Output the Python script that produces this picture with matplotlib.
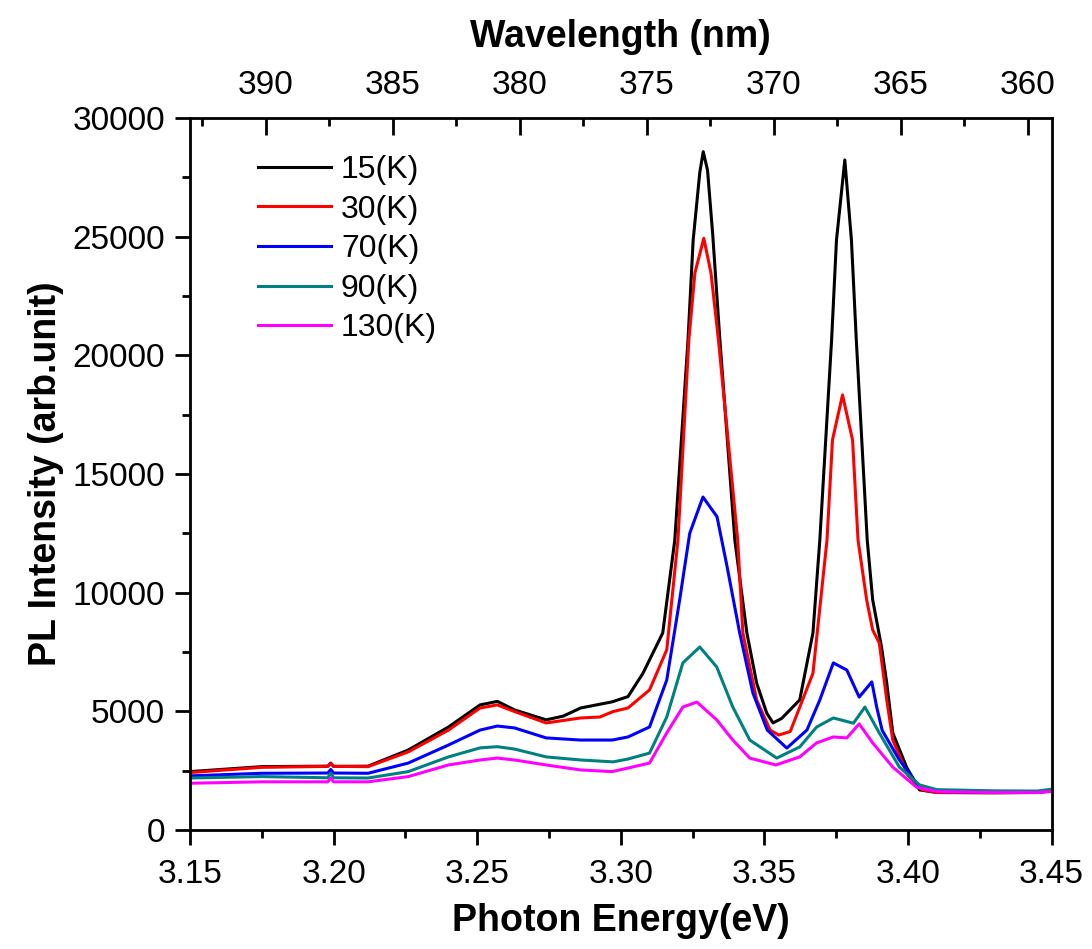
import numpy as np
import matplotlib
matplotlib.use("Agg")
import matplotlib.pyplot as plt
from matplotlib.ticker import MultipleLocator

plt.rcParams['font.family'] = ['Liberation Sans', 'DejaVu Sans']

# photon energy (eV) and PL intensity
e_15k = [3.150, 3.175, 3.198, 3.199, 3.200, 3.212, 3.226, 3.240, 3.251, 3.257,
         3.263, 3.274, 3.280, 3.286, 3.297, 3.3025, 3.3077, 3.3146, 3.3188, 3.3234,
         3.3252, 3.3275, 3.3287, 3.3302, 3.332, 3.3345, 3.3397, 3.3439, 3.3473, 3.3508,
         3.353, 3.356, 3.3623, 3.3669, 3.3693, 3.3734, 3.3751, 3.378, 3.3803, 3.382,
         3.3858, 3.3877, 3.3908, 3.3926, 3.3947, 3.3995, 3.404, 3.410, 3.430, 3.445, 3.450]
i_15k = [2460, 2670, 2690, 2820, 2680, 2690, 3370, 4340, 5270, 5420,
         5060, 4640, 4800, 5140, 5400, 5620, 6600, 8300, 12220, 20650,
         24860, 27700, 28580, 27800, 25100, 20650, 12220, 8300, 6190, 4930,
         4510, 4700, 5480, 8300, 12220, 20650, 24860, 28230, 24860, 20650,
         12220, 9700, 7700, 6190, 4090, 2650, 1690, 1580, 1570, 1580, 1650]

e_30k = [3.150, 3.175, 3.198, 3.199, 3.200, 3.212, 3.226, 3.240, 3.251, 3.257,
         3.263, 3.274, 3.286, 3.2927, 3.2973, 3.3025, 3.310, 3.316, 3.3199, 3.3237,
         3.3258, 3.3289, 3.3314, 3.334, 3.3407, 3.3425, 3.3473, 3.352, 3.355, 3.359,
         3.3669, 3.3718, 3.3737, 3.3772, 3.3807, 3.3826, 3.3856, 3.3877, 3.390, 3.3926,
         3.3947, 3.400, 3.405, 3.410, 3.430, 3.445, 3.450]
i_30k = [2420, 2640, 2680, 2800, 2680, 2670, 3290, 4210, 5140, 5270,
         4990, 4510, 4720, 4760, 4990, 5140, 5900, 7590, 12220, 20650,
         23470, 24930, 23470, 20650, 12220, 8300, 5480, 4210, 4000, 4150,
         6600, 12220, 16430, 18330, 16430, 12220, 9700, 8430, 7880, 5480,
         3790, 2300, 1690, 1580, 1570, 1580, 1650]

e_70k = [3.150, 3.175, 3.198, 3.199, 3.200, 3.212, 3.226, 3.240, 3.251, 3.257,
         3.263, 3.274, 3.286, 3.297, 3.3025, 3.310, 3.316, 3.3205, 3.324, 3.3286,
         3.3335, 3.337, 3.3414, 3.346, 3.351, 3.3578, 3.3648, 3.3693, 3.374, 3.3787,
         3.383, 3.3874, 3.3891, 3.391, 3.397, 3.404, 3.410, 3.430, 3.445, 3.450]
i_70k = [2280, 2390, 2400, 2550, 2400, 2390, 2820, 3580, 4210, 4380,
         4300, 3880, 3790, 3790, 3920, 4340, 6320, 9700, 12500, 14030,
         13200, 11100, 8300, 5770, 4210, 3450, 4210, 5480, 7040, 6740,
         5600, 6240, 5180, 4200, 2950, 1810, 1620, 1580, 1590, 1660]

e_90k = [3.150, 3.175, 3.198, 3.199, 3.200, 3.212, 3.226, 3.240, 3.251, 3.257,
         3.263, 3.274, 3.286, 3.2973, 3.3025, 3.310, 3.316, 3.3216, 3.3275, 3.3334,
         3.339, 3.3449, 3.3543, 3.3623, 3.3682, 3.374, 3.381, 3.385, 3.390, 3.397,
         3.404, 3.410, 3.430, 3.445, 3.450]
i_90k = [2190, 2250, 2200, 2400, 2200, 2190, 2460, 3080, 3460, 3510,
         3410, 3080, 2950, 2870, 2990, 3240, 4760, 7040, 7710, 6870,
         5180, 3790, 3030, 3500, 4340, 4720, 4500, 5180, 4090, 2650,
         1900, 1700, 1650, 1640, 1720]

e_130k = [3.150, 3.175, 3.198, 3.199, 3.200, 3.212, 3.226, 3.240, 3.251, 3.257,
          3.263, 3.274, 3.286, 3.297, 3.3025, 3.310, 3.316, 3.3216, 3.3265, 3.3334,
          3.339, 3.3449, 3.354, 3.3623, 3.3682, 3.374, 3.3787, 3.383, 3.3877, 3.3947,
          3.403, 3.410, 3.430, 3.445, 3.450]
i_130k = [1970, 2030, 2030, 2190, 2030, 2030, 2250, 2740, 2950, 3030,
          2950, 2740, 2530, 2460, 2610, 2820, 4090, 5180, 5390, 4640,
          3790, 3030, 2740, 3080, 3670, 3920, 3880, 4470, 3670, 2650,
          1800, 1620, 1580, 1580, 1620]

labels = ["15(K)", "30(K)", "70(K)", "90(K)", "130(K)"]
colors = ["#000000", "#ff0000", "#0000ff", "#008080", "#ff00ff"]

fig = plt.figure(figsize=(10.92, 9.49), dpi=100)
ax = fig.add_axes([0.174, 0.1254, 0.789, 0.7503])

series = [(e_15k, i_15k), (e_30k, i_30k), (e_70k, i_70k), (e_90k, i_90k), (e_130k, i_130k)]
for (e, i), lab, c in zip(series, labels, colors):
    ax.plot(e, i, color=c, lw=2.2, label=lab)

ax.set_xlim(3.15, 3.45)
ax.set_ylim(0, 30000)
ax.xaxis.set_major_locator(MultipleLocator(0.05))
ax.xaxis.set_minor_locator(MultipleLocator(0.025))
ax.yaxis.set_major_locator(MultipleLocator(5000))
ax.yaxis.set_minor_locator(MultipleLocator(2500))
ax.xaxis.set_major_formatter(plt.FormatStrFormatter('%.2f'))
ax.tick_params(which='both', direction='out', width=2, labelsize=24, top=False, right=False)
ax.tick_params(which='major', length=11)
ax.tick_params(which='minor', length=5.5)
ax.tick_params(axis='x', pad=10)
ax.tick_params(axis='y', pad=7)
for s in ax.spines.values():
    s.set_linewidth(2)

ax.set_xlabel("Photon Energy(eV)", fontsize=27, fontweight='bold', labelpad=9)
ax.set_ylabel("PL Intensity (arb.unit)", fontsize=27, fontweight='bold', labelpad=6)

# top wavelength axis (linear scale as in the original)
ax2 = ax.twiny()
ax2.set_xlim(392.98, 359.06)
ax2.xaxis.set_major_locator(MultipleLocator(5))
ax2.xaxis.set_minor_locator(MultipleLocator(2.5))
ax2.tick_params(which='both', direction='in', width=2, labelsize=24, pad=12)
ax2.tick_params(which='major', length=12)
ax2.tick_params(which='minor', length=6)
ax2.set_xlabel("Wavelength (nm)", fontsize=27, fontweight='bold', labelpad=17)

ax.legend(loc='upper left', bbox_to_anchor=(0.064, 0.966), frameon=False, fontsize=23,
          handlelength=2.3, handletextpad=0.3, labelspacing=0.3, borderaxespad=0)

fig.savefig("out.png", dpi=100)
